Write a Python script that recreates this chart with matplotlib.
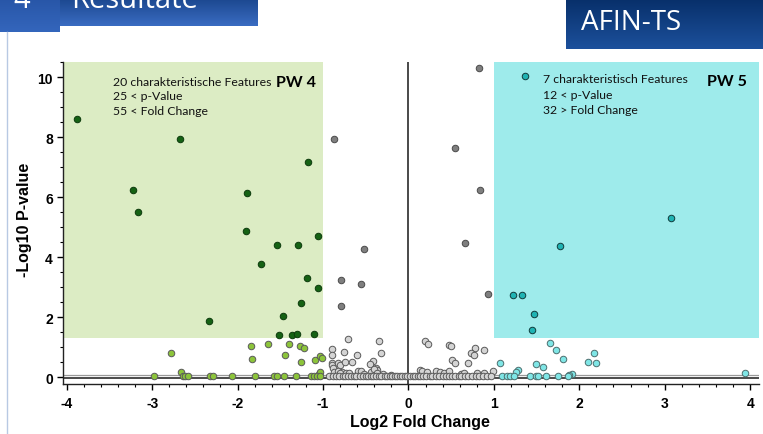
import numpy as np
import matplotlib.pyplot as plt
from matplotlib.patches import Rectangle
from matplotlib.lines import Line2D
from matplotlib.colors import LinearSegmentedColormap

plt.rcParams['axes.unicode_minus'] = False

# ---- data (log2 fold change / -log10 p-value) ----
# significant, down (PW 4)
down_sig_fc = [-3.88, -2.67, -3.22, -1.89, -1.17, -3.17, -1.90, -1.54, -1.29, -1.06,
               -1.72, -1.19, -1.06, -1.26, -1.47, -2.33, -1.51, -1.36, -1.31, -1.11]
down_sig_p = [8.59, 7.94, 6.23, 6.13, 7.17, 5.51, 4.89, 4.40, 4.40, 4.70,
              3.76, 3.31, 2.98, 2.49, 2.06, 1.88, 1.41, 1.42, 1.45, 1.46]

# down, not significant
down_ns_fc = [-2.78, -1.84, -1.64, -1.40, -1.27, -1.22, -1.83, -1.45, -1.26, -1.09,
              -1.04, -1.01, -2.66, -1.05, -1.04, -2.98, -2.64, -2.61, -2.58, -2.32,
              -2.29, -2.07, -1.80, -1.57, -1.54, -1.46, -1.32, -1.14, -1.10, -1.07, -1.03]
down_ns_p = [0.80, 1.05, 1.10, 1.10, 1.04, 0.97, 0.62, 0.73, 0.52, 0.58,
             0.70, 0.63, 0.17, 0.11, 0.18, 0.03, 0.03, 0.03, 0.03, 0.03,
             0.03, 0.03, 0.03, 0.03, 0.03, 0.04, 0.03, 0.04, 0.03, 0.03, 0.03]

# significant p, small fold change
mid_sig_fc = [-0.87, -0.52, -0.79, -0.55, -0.79, 0.83, 0.55, 0.84, 0.66, 0.93]
mid_sig_p = [7.92, 4.29, 3.25, 3.11, 2.39, 10.31, 7.64, 6.25, 4.48, 2.78]

# significant, up (PW 5)
up_sig_fc = [1.37, 3.07, 1.77, 1.22, 1.33, 1.47, 1.45]
up_sig_p = [10.02, 5.30, 4.36, 2.75, 2.73, 2.12, 1.57]

# up, not significant
up_ns_fc = [1.66, 1.73, 1.81, 2.17, 2.10, 2.19, 1.07, 1.49, 1.58, 1.28,
            1.26, 1.92, 1.88, 3.94, 1.09, 1.15, 1.19, 1.24, 1.42, 1.49,
            1.52, 1.61, 1.75, 1.87]
up_ns_p = [1.16, 0.91, 0.62, 0.80, 0.50, 0.47, 0.48, 0.44, 0.34, 0.25,
           0.17, 0.11, 0.07, 0.15, 0.03, 0.03, 0.03, 0.03, 0.03, 0.03,
           0.03, 0.03, 0.03, 0.04]

# not significant, small fold change
mid_ns_fc = [-0.71, -0.34, -0.90, -0.89, -0.75, -0.60, -0.32, -0.90, -0.89, -0.82,
             -0.80, -0.74, -0.66, -0.88, -0.41, -0.45, -0.38, -0.37,
             0.19, 0.23, 0.48, 0.50, 0.78, 0.89, 0.73, 0.77, 0.51, 0.55, 0.70,
             -0.87, -0.83, -0.78, -0.80, -0.73, -0.69, -0.59, -0.55, -0.52, -0.44,
             -0.40, -0.37, -0.30, -0.20, 0.14, 0.16, 0.22, 0.32, 0.37, 0.42,
             0.48, 0.61, 0.65, 0.80, 0.89, 0.99,
             -0.93, -0.88, -0.85, -0.81, -0.77, -0.74, -0.71, -0.67, -0.64, -0.61,
             -0.57, -0.53, -0.50, -0.47, -0.44, -0.41, -0.38, -0.35, -0.32, -0.28,
             -0.25, -0.22, -0.19, -0.16, -0.13, -0.10, -0.07, -0.04, -0.02, 0.02,
             0.05, 0.08, 0.11, 0.14, 0.17, 0.21, 0.25, 0.28, 0.32, 0.36,
             0.40, 0.44, 0.47, 0.51, 0.55, 0.59, 0.62, 0.66, 0.70, 0.74,
             0.79, 0.83, 0.87, 0.92, 0.97]
mid_ns_p = [1.28, 1.21, 0.94, 0.73, 0.83, 0.73, 0.80, 0.47, 0.42, 0.48,
            0.42, 0.50, 0.50, 0.31, 0.53, 0.43, 0.30, 0.24,
            1.20, 1.12, 1.07, 1.04, 0.98, 0.91, 0.80, 0.74, 0.58, 0.47, 0.47,
            0.19, 0.22, 0.18, 0.14, 0.14, 0.13, 0.21, 0.20, 0.11, 0.17,
            0.28, 0.14, 0.10, 0.08, 0.25, 0.20, 0.17, 0.20, 0.17, 0.13,
            0.20, 0.11, 0.13, 0.13, 0.14, 0.20,
            0.03, 0.04, 0.03, 0.03, 0.04, 0.03, 0.03, 0.04, 0.03, 0.03,
            0.04, 0.03, 0.03, 0.03, 0.04, 0.03, 0.03, 0.03, 0.04, 0.03,
            0.03, 0.03, 0.04, 0.03, 0.03, 0.03, 0.03, 0.04, 0.03, 0.03,
            0.03, 0.04, 0.03, 0.03, 0.03, 0.04, 0.03, 0.03, 0.03, 0.04,
            0.03, 0.03, 0.03, 0.04, 0.03, 0.03, 0.03, 0.04, 0.03, 0.03,
            0.04, 0.03, 0.03, 0.03, 0.03]

fc_cut = 1.0
p_cut = 1.3
x_lim = (-4.047, 4.1)
y_lim = (-0.22, 10.49)

W, H = 763, 435
fig = plt.figure(figsize=(W / 100, H / 100), dpi=100)

def px_box(x0, y0, w, h):
    return [x0 / W, 1 - (y0 + h) / H, w / W, h / H]

def banner(x0, y0, w, h, top, bottom):
    bax = fig.add_axes(px_box(x0, y0, w, h))
    cmap = LinearSegmentedColormap.from_list('b', [top, bottom])
    bax.imshow(np.linspace(0, 1, 64)[:, None], aspect='auto', cmap=cmap,
               extent=[0, 1, 1, 0])
    bax.axis('off')
    return bax

# header banners (text is cut at the top edge, as in the slide)
banner(60, 0, 198, 27, '#1c4890', '#3a6cc2')
banner(0, 0, 60, 33, '#2856a8', '#3466bc')
banner(566, 0, 197, 50, '#08306a', '#1c509c')
fig.text(13 / W, 1 - 8 / H, '4', color='white', fontsize=21,
         family='Open Sans', va='baseline', ha='left')
fig.text(71 / W, 1 - 8 / H, 'Resultate', color='white', fontsize=21,
         family='Open Sans', va='baseline', ha='left')
fig.text(581 / W, 1 - 23 / H, 'AFIN-TS', color='white', fontsize=20,
         family='Open Sans', va='center', ha='left')
fig.add_artist(Line2D([7 / W, 7 / W], [0, 1 - 33 / H], color='#b8c9e3', lw=1))

# main axes
ax = fig.add_axes(px_box(62.7, 63, 696, 322))
ax.set_xlim(*x_lim)
ax.set_ylim(*y_lim)

ax.add_patch(Rectangle((x_lim[0], p_cut), -fc_cut - x_lim[0], y_lim[1] - p_cut,
                       facecolor='#dcecc4', edgecolor='none', zorder=0))
ax.add_patch(Rectangle((fc_cut, p_cut), x_lim[1] - fc_cut, y_lim[1] - p_cut,
                       facecolor='#9eebeb', edgecolor='none', zorder=0))

ax.axvline(0, color='#3a3a3a', lw=1.3, zorder=1)
ax.axhline(0.07, color='#9a9a9a', lw=0.9, zorder=1)
ax.axhline(-0.02, color='#1a1a1a', lw=1.1, zorder=1)

kw = dict(s=22, linewidths=0.7, zorder=3)
ax.scatter(mid_ns_fc, mid_ns_p, c='#d4d4d4', edgecolors='#5a5a5a', **kw)
ax.scatter(mid_sig_fc, mid_sig_p, c='#7f7f7f', edgecolors='#4a4a4a', **kw)
ax.scatter(down_ns_fc, down_ns_p, c='#8cc43a', edgecolors='#5a5a5a', **kw)
ax.scatter(down_sig_fc, down_sig_p, c='#156214', edgecolors='#0c3a0c', **kw)
ax.scatter(up_ns_fc, up_ns_p, c='#7fe6e6', edgecolors='#4c6f6f', **kw)
ax.scatter(up_sig_fc, up_sig_p, c='#1fb3b3', edgecolors='#0f3c3c', **kw)

# annotations
txt = dict(family='Lato', fontsize=8.8, color='#111111', va='top', ha='left',
           linespacing=1.4)
ax.text(-3.46, 10.04, '20 charakteristische Features\n25 < p-Value\n55 < Fold Change', **txt)
ax.text(1.58, 10.12, '7 charakteristisch Features\n12 < p-Value\n32 > Fold Change',
        **dict(txt, linespacing=1.5))
ax.text(-1.55, 9.84, 'PW 4', family='Lato', fontsize=11.5, fontweight='bold',
        va='center', ha='left')
ax.text(3.50, 9.86, 'PW 5', family='Lato', fontsize=11.5, fontweight='bold',
        va='center', ha='left')

# axes styling
for s in ['top', 'right']:
    ax.spines[s].set_visible(False)
for s in ['left', 'bottom']:
    ax.spines[s].set_linewidth(1.0)
    ax.spines[s].set_color('#222222')
ax.set_xticks(np.arange(-4, 5, 1))
ax.set_xticks(np.arange(-4, 4.01, 0.2), minor=True)
ax.set_yticks(np.arange(0, 11, 2))
ax.set_yticks(np.arange(0, 10.51, 0.5), minor=True)
ax.tick_params(which='major', length=4, width=1, pad=3)
ax.tick_params(which='minor', length=2.5, width=0.8)
ax.tick_params(axis='x', pad=5)
for lab in ax.get_xticklabels() + ax.get_yticklabels():
    lab.set_fontfamily('Liberation Sans')
    lab.set_fontweight('bold')
    lab.set_fontsize(10)

fig.text(25 / W, 1 - 219.5 / H, '-Log10 P-value', rotation=90, ha='center',
         va='center', family='Liberation Sans', fontweight='bold', fontsize=11.5)
fig.text(419.5 / W, 1 - 423 / H, 'Log2 Fold Change', ha='center', va='center',
         family='Liberation Sans', fontweight='bold', fontsize=11.5)

fig.savefig('out.png', dpi=100)
